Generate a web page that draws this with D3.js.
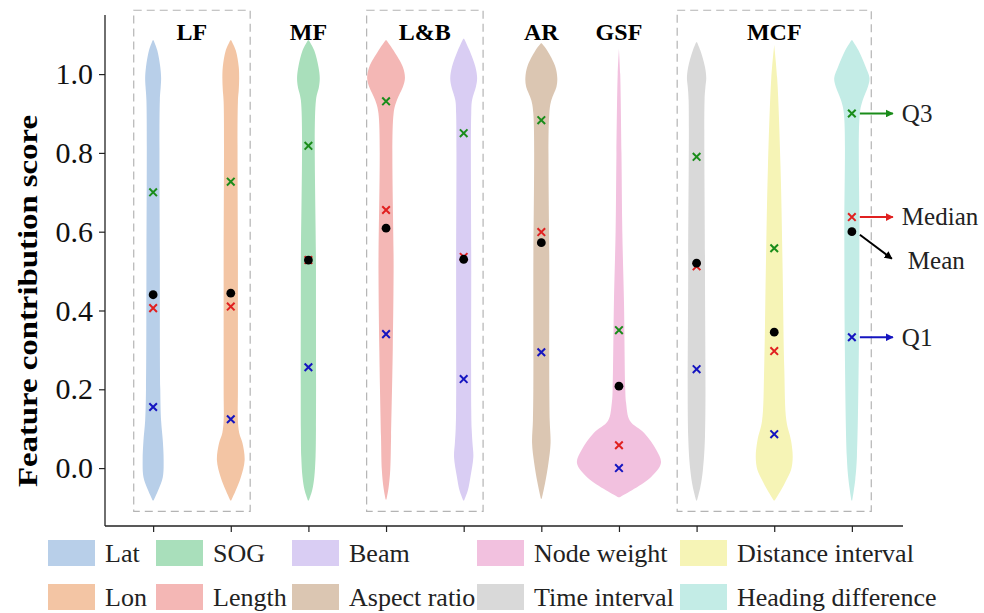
<!DOCTYPE html>
<html>
<head>
<meta charset="utf-8">
<script src="https://cdn.jsdelivr.net/npm/d3@7"></script>
<style>
  html, body { margin: 0; padding: 0; background: #fff; }
  svg { display: block; }
  text { font-family: "Liberation Serif", "Times New Roman", serif; }
</style>
</head>
<body>
<svg id="chart" width="984" height="613"></svg>
<script>
// ---------------- DATA ----------------
const features = ["Lat", "Lon", "SOG", "Length", "Beam", "Aspect ratio",
  "Node weight", "Time interval", "Distance interval", "Heading difference"];
const colors = ["#b8cfe9", "#f3c5a4", "#a9dfbb", "#f4b7b5", "#d9cdf3", "#dbc6b2",
  "#f2c1df", "#d9d9d9", "#f6f4b6", "#c3ece6"];

const q1Values     = [0.155, 0.124, 0.256, 0.340, 0.226, 0.294, 0.000, 0.251, 0.086, 0.332];
const q3Values     = [0.700, 0.727, 0.818, 0.931, 0.850, 0.883, 0.350, 0.790, 0.558, 0.900];
const medianValues = [0.406, 0.410, 0.528, 0.655, 0.536, 0.599, 0.058, 0.512, 0.297, 0.637];
const meanValues   = [0.440, 0.444, 0.528, 0.609, 0.530, 0.572, 0.208, 0.520, 0.345, 0.600];

// violin density profiles: [score, relative density]
const densLat = [[-0.082,0.01],[-0.056,0.12],[-0.023,0.23],[0.02,0.25],[0.07,0.23],[0.12,0.19],[0.2,0.17],[0.5,0.16],[0.934,0.16],[0.967,0.18],[0.99,0.19],[1.018,0.17],[1.06,0.1],[1.086,0.01]];
const densLon = [[-0.082,0.01],[-0.056,0.12],[-0.023,0.24],[0.02,0.33],[0.063,0.28],[0.09,0.2],[0.12,0.17],[0.2,0.17],[0.5,0.17],[0.93,0.17],[0.96,0.19],[0.99,0.2],[1.018,0.19],[1.06,0.12],[1.086,0.01]];
const densSOG = [[-0.082,0.01],[-0.056,0.09],[-0.023,0.14],[0.028,0.17],[0.1,0.18],[0.5,0.18],[0.934,0.18],[0.967,0.25],[0.99,0.27],[1.018,0.24],[1.06,0.14],[1.086,0.01]];
const densLength = [[-0.08,0.01],[-0.05,0.06],[-0.005,0.1],[0.08,0.12],[0.3,0.16],[0.5,0.18],[0.9,0.18],[0.934,0.26],[0.967,0.4],[0.99,0.45],[1.018,0.4],[1.06,0.18],[1.086,0.01]];
const densBeam = [[-0.082,0.01],[-0.056,0.1],[-0.023,0.16],[0.028,0.23],[0.063,0.21],[0.1,0.19],[0.15,0.18],[0.5,0.18],[0.9,0.18],[0.934,0.2],[0.967,0.29],[0.99,0.32],[1.018,0.28],[1.06,0.14],[1.09,0.01]];
const densAR = [[-0.078,0.01],[-0.038,0.09],[0.013,0.17],[0.063,0.22],[0.12,0.2],[0.2,0.19],[0.5,0.19],[0.9,0.19],[0.934,0.24],[0.967,0.36],[0.99,0.38],[1.02,0.33],[1.06,0.14],[1.078,0.01]];
const densNode = [[-0.074,0.01],[-0.056,0.31],[-0.023,0.76],[0.013,1.0],[0.046,0.89],[0.089,0.6],[0.12,0.26],[0.165,0.17],[0.2,0.15],[0.42,0.12],[0.6,0.08],[0.8,0.06],[1.0,0.03],[1.065,0.0]];
const densTime = [[-0.082,0.01],[-0.048,0.09],[-0.005,0.15],[0.08,0.2],[0.5,0.2],[0.934,0.19],[0.967,0.21],[0.99,0.23],[1.018,0.2],[1.06,0.09],[1.081,0.01]];
const densDist = [[-0.082,0.01],[-0.056,0.16],[-0.03,0.29],[-0.005,0.4],[0.028,0.44],[0.07,0.4],[0.12,0.29],[0.25,0.24],[0.503,0.2],[0.764,0.15],[0.99,0.07],[1.074,0.0]];
const densHead = [[-0.082,0.01],[-0.03,0.08],[0.028,0.12],[0.33,0.17],[0.6,0.18],[0.9,0.19],[0.934,0.26],[0.967,0.38],[0.99,0.42],[1.018,0.33],[1.06,0.16],[1.086,0.01]];
const densities = [densLat, densLon, densSOG, densLength, densBeam, densAR, densNode, densTime, densDist, densHead];

const groupLabels  = ["LF", "MF", "L&B", "AR", "GSF", "MCF"];
const groupMembers = [[0, 1], [2], [3, 4], [5], [6], [7, 8, 9]];
const groupBoxed   = [true, false, true, false, false, true];

const yTicks = [0, 0.2, 0.4, 0.6, 0.8, 1.0];
const yTitle = "Feature contribution score";

// ---------------- LAYOUT ----------------
const svg = d3.select("#chart");
const FONT = '"Liberation Serif", "Times New Roman", serif';

const x = d3.scalePoint().domain(features).range([105, 900]).padding(0.62);
const y = d3.scaleLinear().domain([-0.147, 1.15]).range([526, 15]);
const w = d3.scaleLinear().domain([0, 1]).range([0, 42]);

// dashed group boxes
const step = x.step();
groupMembers.forEach((m, gi) => {
  if (!groupBoxed[gi]) return;
  const x0 = x(features[m[0]]) - 0.25 * step;
  const x1 = x(features[m[m.length - 1]]) + 0.25 * step;
  svg.append("rect")
    .attr("x", x0).attr("y", y(1.162))
    .attr("width", x1 - x0).attr("height", y(-0.11) - y(1.162))
    .attr("fill", "none").attr("stroke", "#b4b4b4")
    .attr("stroke-width", 1.2).attr("stroke-dasharray", "8,5");
});

// group labels
groupMembers.forEach((m, gi) => {
  const cx = d3.mean(m, i => x(features[i]));
  svg.append("text")
    .attr("x", cx).attr("y", 40)
    .attr("text-anchor", "middle")
    .style("font-family", FONT).style("font-weight", "bold").style("font-size", "24px")
    .text(groupLabels[gi]);
});

// violins
const area = d3.area()
  .curve(d3.curveCatmullRom.alpha(0.5));
features.forEach((f, i) => {
  const cx = x(f);
  const pts = densities[i].slice().sort((a, b) => a[0] - b[0]);
  svg.append("path")
    .datum(pts)
    .attr("d", area
      .y(d => y(d[0]))
      .x0(d => cx - w(d[1]))
      .x1(d => cx + w(d[1]))(pts))
    .attr("fill", colors[i]);
});

// markers
function cross(g, cx, cy, color) {
  const s = 3.8;
  g.append("path")
    .attr("d", `M${cx - s},${cy - s}L${cx + s},${cy + s}M${cx - s},${cy + s}L${cx + s},${cy - s}`)
    .attr("stroke", color).attr("stroke-width", 2).attr("fill", "none");
}
const mk = svg.append("g");
features.forEach((f, i) => {
  const cx = x(f);
  cross(mk, cx, y(q3Values[i]), "#1a8c1a");
  cross(mk, cx, y(q1Values[i]), "#1515c0");
  cross(mk, cx, y(medianValues[i]), "#e02020");
});
features.forEach((f, i) => {
  mk.append("circle").attr("cx", x(f)).attr("cy", y(meanValues[i])).attr("r", 4.4).attr("fill", "#000");
});

// axes
const yAxis = d3.axisLeft(y).tickValues(yTicks).tickFormat(d3.format(".1f")).tickSize(6).tickPadding(6);
const gy = svg.append("g").attr("transform", "translate(105,0)").call(yAxis);
gy.select(".domain").remove();
gy.selectAll("text").style("font-family", FONT).style("font-size", "30px").attr("fill", "#111");
gy.selectAll("line").attr("stroke", "#222").attr("stroke-width", 1.2);
svg.append("line").attr("x1", 105).attr("x2", 105).attr("y1", y(1.15)).attr("y2", y(-0.147))
  .attr("stroke", "#222").attr("stroke-width", 1.3);

const xAxis = d3.axisBottom(x).tickSize(6).tickFormat("");
const gx = svg.append("g").attr("transform", `translate(0,${y(-0.147)})`).call(xAxis);
gx.select(".domain").remove();
gx.selectAll("line").attr("stroke", "#222").attr("stroke-width", 1.2);
svg.append("line").attr("x1", 105).attr("x2", 903).attr("y1", y(-0.147)).attr("y2", y(-0.147))
  .attr("stroke", "#222").attr("stroke-width", 1.3);

// y title
svg.append("text")
  .attr("transform", "translate(37,301) rotate(-90)")
  .attr("text-anchor", "middle")
  .attr("textLength", 372).attr("lengthAdjust", "spacingAndGlyphs")
  .style("font-family", FONT).style("font-weight", "bold").style("font-size", "27px")
  .text(yTitle);

// annotations on last violin
const defs = svg.append("defs");
[["arrG", "#1a8c1a"], ["arrR", "#e02020"], ["arrB", "#1515c0"], ["arrK", "#000"]].forEach(([id, c]) => {
  defs.append("marker").attr("id", id).attr("viewBox", "0 0 10 10")
    .attr("refX", 9).attr("refY", 5).attr("markerWidth", 4).attr("markerHeight", 4)
    .attr("orient", "auto")
    .append("path").attr("d", "M0,0L10,5L0,10Z").attr("fill", c);
});
const last = features.length - 1;
const ax = x(features[last]);
const ann = [
  [q3Values[last], "#1a8c1a", "arrG", "Q3"],
  [medianValues[last], "#e02020", "arrR", "Median"],
  [q1Values[last], "#1515c0", "arrB", "Q1"]
];
ann.forEach(([v, c, m, t]) => {
  svg.append("line").attr("x1", ax + 8).attr("x2", ax + 41).attr("y1", y(v)).attr("y2", y(v))
    .attr("stroke", c).attr("stroke-width", 2).attr("marker-end", `url(#${m})`);
  svg.append("text").attr("x", ax + 50).attr("y", y(v)).attr("dy", "0.33em")
    .style("font-family", FONT).style("font-size", "25px").attr("fill", "#222").text(t);
});
const my = y(meanValues[last]);
svg.append("line").attr("x1", ax + 8).attr("y1", my + 3).attr("x2", ax + 40).attr("y2", my + 27)
  .attr("stroke", "#000").attr("stroke-width", 2).attr("marker-end", "url(#arrK)");
svg.append("text").attr("x", ax + 56).attr("y", my + 37)
  .style("font-family", FONT).style("font-size", "25px").attr("fill", "#222").text("Mean");

// legend
const legendColX = [48, 156, 292, 477, 680];
const legendRowY = [553, 597];
features.forEach((f, i) => {
  const col = Math.floor(i / 2), row = i % 2;
  const lx = legendColX[col], ly = legendRowY[row];
  svg.append("rect").attr("x", lx).attr("y", ly - 13).attr("width", 47).attr("height", 26)
    .attr("fill", colors[i]);
  svg.append("text").attr("x", lx + 57).attr("y", ly).attr("dy", "0.36em")
    .style("font-family", FONT).style("font-size", "26px").attr("fill", "#222").text(f);
});
</script>
</body>
</html>
